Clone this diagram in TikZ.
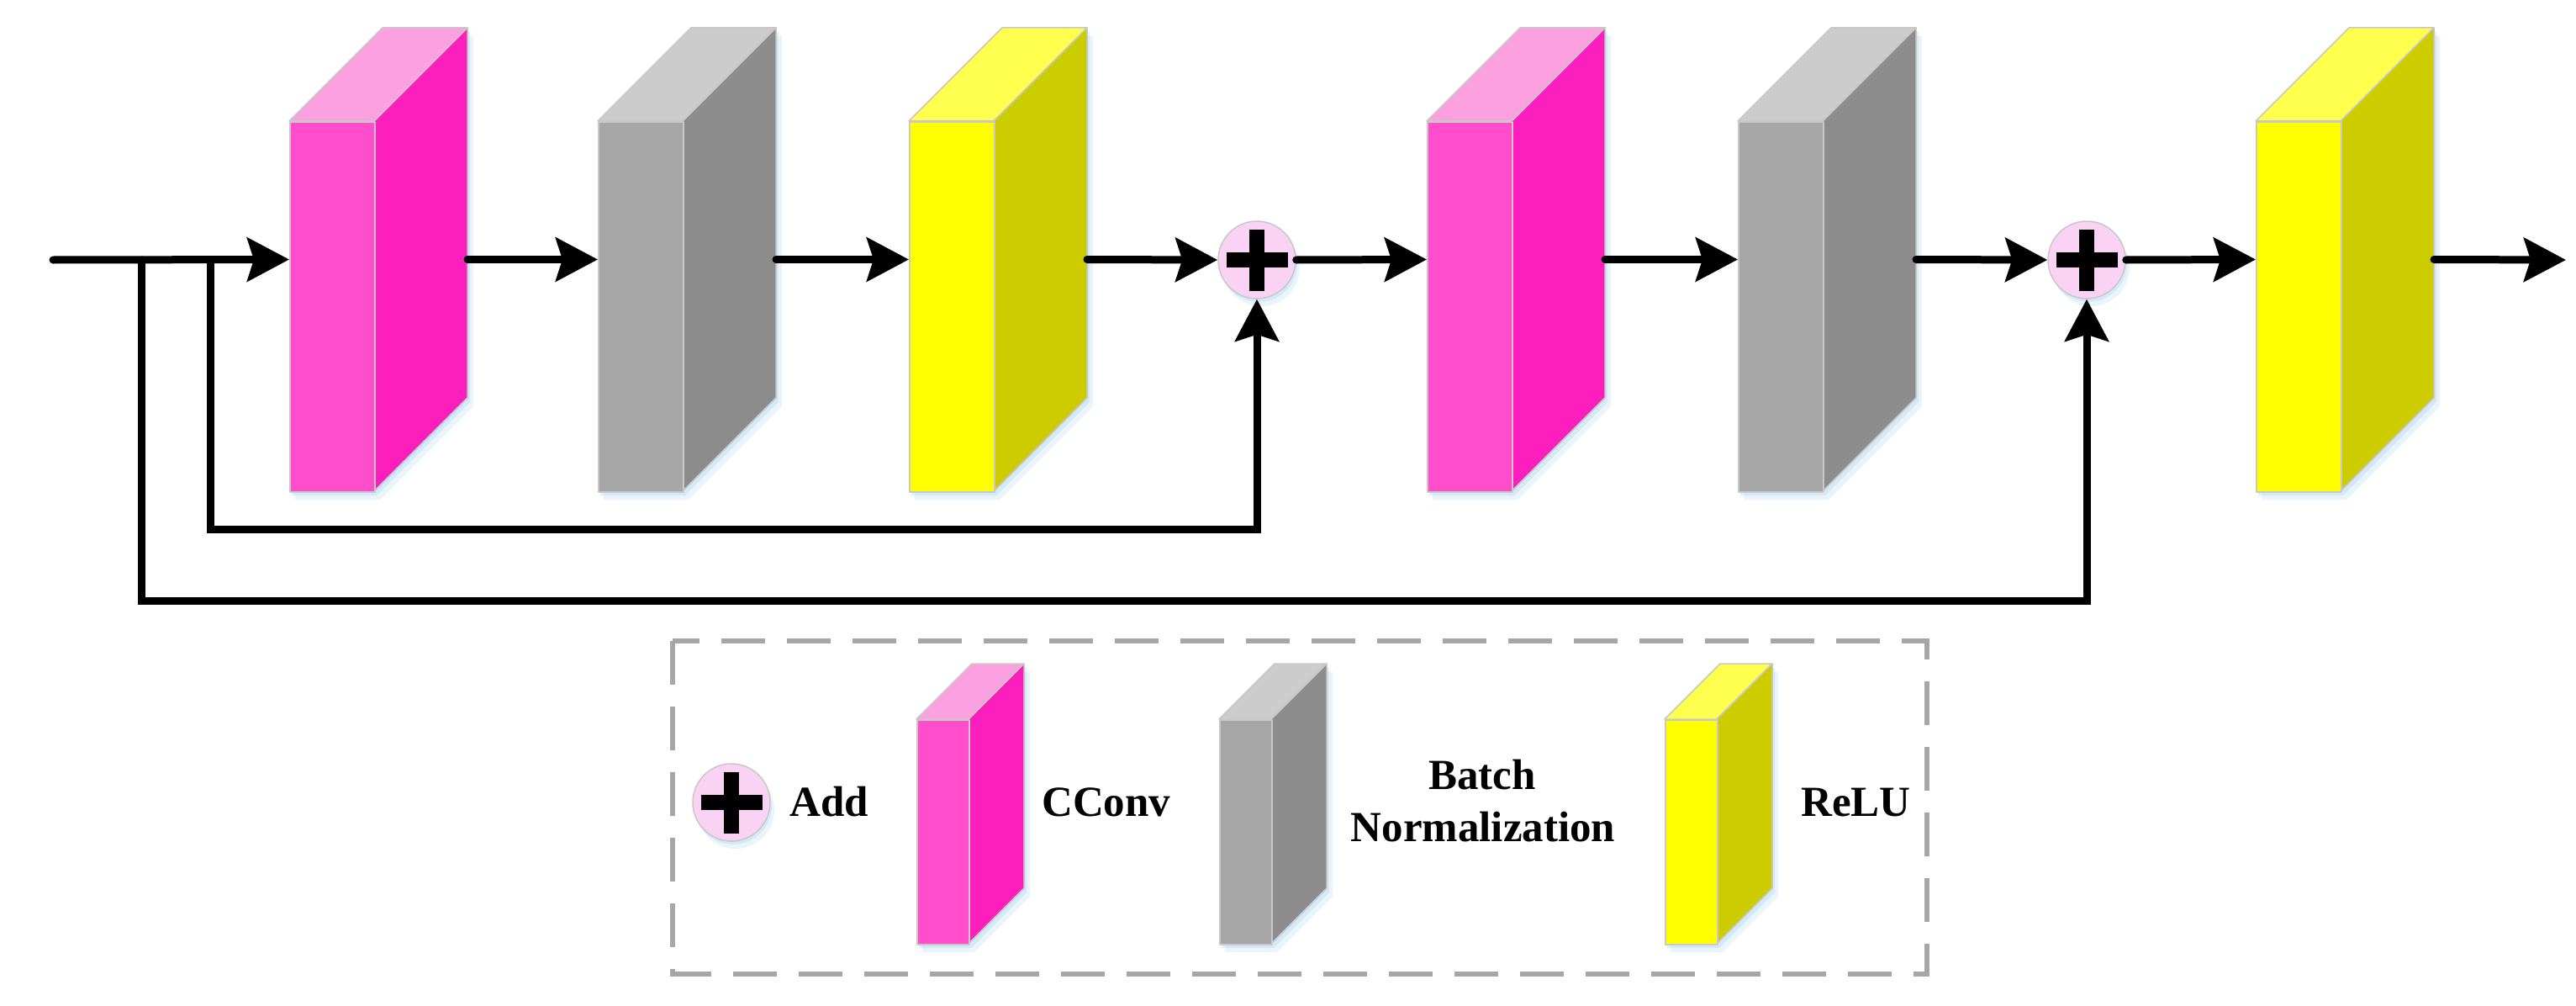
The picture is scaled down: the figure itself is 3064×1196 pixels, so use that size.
\documentclass[tikz,border=0pt]{standalone}
\usepackage{fontspec}
\setmainfont{Liberation Serif}
\usetikzlibrary{arrows.meta}
\definecolor{pinkF}{RGB}{255,77,204}
\definecolor{pinkS}{RGB}{252,31,190}
\definecolor{pinkT}{RGB}{253,160,224}
\definecolor{grayF}{RGB}{166,166,166}
\definecolor{grayS}{RGB}{140,140,140}
\definecolor{grayT}{RGB}{204,204,204}
\definecolor{yelF}{RGB}{255,255,0}
\definecolor{yelS}{RGB}{204,204,0}
\definecolor{yelT}{RGB}{255,255,77}
\definecolor{edgec}{RGB}{200,200,200}
\definecolor{glowc}{RGB}{175,212,240}
\definecolor{addfill}{RGB}{250,211,244}
\definecolor{dashc}{RGB}{166,166,166}
\tikzset{
  faceline/.style={draw=edgec, line width=1.5pt, line join=round},
  addc/.style={circle, minimum size=92pt, inner sep=0pt, fill=addfill, draw=edgec, line width=1.5pt},
  arr/.style={line width=9pt, line cap=round, -{Stealth[length=50pt,width=52pt,inset=8pt]}},
  lbl/.style={font=\fontsize{51}{62}\selectfont\bfseries, inner sep=0pt},
  legendbox/.style={draw=dashc, line width=6pt, dash pattern=on 52pt off 26pt}
}
% name, x, y(top of front), w, h, d, colour prefix
\newcommand{\blk}[7]{%
  \fill[glowc, opacity=0.25] ({#2+7},{#3+10}) -- ++(#6,-#6) -- ++(#4,0) -- ++(0,#5) -- ++(-#6,#6) -- ++(-#4,0) -- cycle;
  \fill[glowc, opacity=0.35] ({#2+3},{#3+5}) -- ++(#6,-#6) -- ++(#4,0) -- ++(0,#5) -- ++(-#6,#6) -- ++(-#4,0) -- cycle;
  \filldraw[fill=#7T, faceline] (#2,#3) -- ++(#6,-#6) -- ++(#4,0) -- ++(-#6,#6) -- cycle;
  \filldraw[fill=#7S, faceline] ({#2+#4},#3) -- ++(#6,-#6) -- ++(0,#5) -- ++(-#6,#6) -- cycle;
  \node[faceline, fill=#7F, inner sep=0pt, minimum width=#4pt, minimum height=#5pt, anchor=north west] (#1) at (#2,#3) {};
  \coordinate (#1-in) at (#2,{#3+(#5-#6)/2});
  \coordinate (#1-out) at ({#2+#4+#6},{#3+(#5-#6)/2});
}
% name, x, y
\newcommand{\addop}[3]{%
  \fill[glowc, opacity=0.25] ({#2+5},{#3+9}) circle (46);
  \fill[glowc, opacity=0.35] ({#2+2},{#3+4}) circle (46);
  \node[addc] (#1) at (#2,#3) {};
  \fill (#1.center) +(-36.5,-9) rectangle +(36.5,9);
  \fill (#1.center) +(-9,-36.5) rectangle +(9,36.5);
}
\begin{document}
\begin{tikzpicture}[x=1pt, y=-1pt]
\useasboundingbox (0,0) rectangle (3064,1196);
\fill[white] (0,0) rectangle (3064,1196);

% main chain
\blk{b1}{344}{144}{101}{440}{111}{pink}
\blk{b2}{711}{144}{101}{440}{111}{gray}
\blk{b3}{1081}{144}{101}{440}{111}{yel}
\blk{b4}{1697}{144}{101}{440}{111}{pink}
\blk{b5}{2067}{144}{101}{440}{111}{gray}
\blk{b6}{2683}{144}{101}{440}{111}{yel}
\addop{a1}{1495}{309}
\addop{a2}{2482}{309}

\coordinate (in0) at (63,309);
\coordinate (j1) at (250,309);
\coordinate (j2) at (168,309);
\coordinate (k1) at (250,629);
\coordinate (k2) at (168,714);
\coordinate (out) at (3052,309);

\draw[arr] (in0) -- (b1-in);
\draw[arr] (b1-out) -- (b2-in);
\draw[arr] (b2-out) -- (b3-in);
\draw[arr] (b3-out) -- (a1.west);
\draw[arr] (a1.east) -- (b4-in);
\draw[arr] (b4-out) -- (b5-in);
\draw[arr] (b5-out) -- (a2.west);
\draw[arr] (a2.east) -- (b6-in);
\draw[arr] (b6-out) -- (out);
\draw[arr] (j1) -- (k1) -| (a1.south);
\draw[arr] (j2) -- (k2) -| (a2.south);

% legend
\draw[legendbox] (800,762) rectangle (2292,1158);
\addop{la}{870}{954}
\node[lbl, anchor=base west] (tadd) at (939,970) {Add};
\blk{lp}{1090}{855}{62}{267}{66}{pink}
\node[lbl, anchor=base west] (tconv) at (1239,970) {CConv};
\blk{lg}{1450}{855}{62}{267}{66}{gray}
\node[lbl, anchor=base] (tbn1) at (1763,938) {Batch};
\node[lbl, anchor=base] (tbn2) at (1764,1000) {Normalization};
\blk{ly}{1980}{855}{62}{267}{66}{yel}
\node[lbl, anchor=base west] (trelu) at (2142,970) {ReLU};
\end{tikzpicture}
\end{document}
